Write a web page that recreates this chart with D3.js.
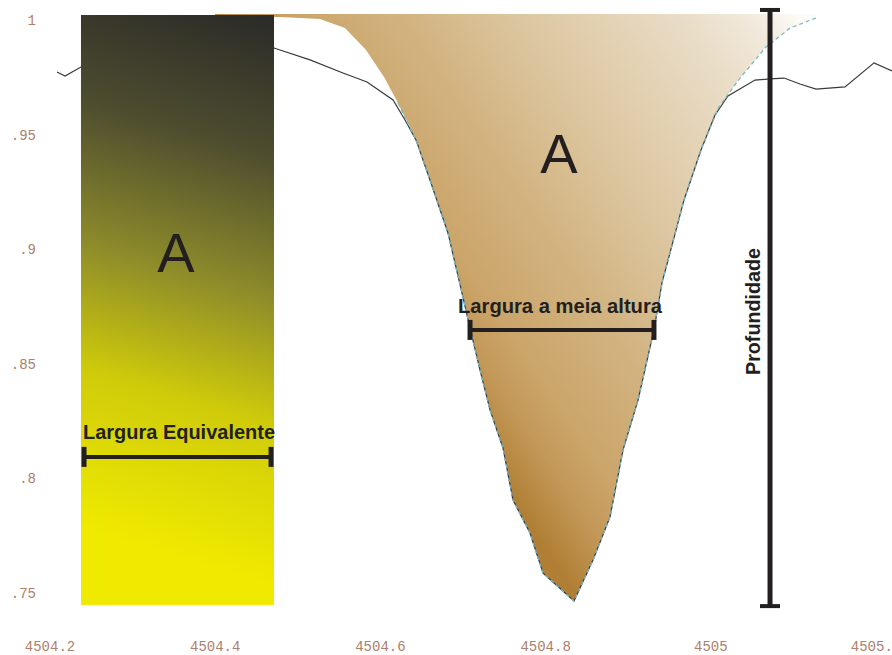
<!DOCTYPE html>
<html>
<head>
<meta charset="utf-8">
<script src="https://cdn.jsdelivr.net/npm/d3@7"></script>
<style>
  html, body { margin: 0; padding: 0; background: #ffffff; }
  svg { display: block; }
</style>
</head>
<body>
<svg id="chart" width="892" height="655"></svg>
<script>
// Axis ticks
const xTicks = [4504.2, 4504.4, 4504.6, 4504.8, 4505.0, 4505.2];
const xTickLabels = ["4504.2", "4504.4", "4504.6", "4504.8", "4505", "4505.2"];
const yTicks = [1.0, 0.95, 0.9, 0.85, 0.8, 0.75];
const yTickLabels = ["1", ".95", ".9", ".85", ".8", ".75"];

// Observed normalized spectrum
const obsWavelength = [4504.2085, 4504.2182, 4504.2375, 4504.4712, 4504.5148, 4504.5547, 4504.5838, 4504.6153,
  4504.6298, 4504.6431, 4504.6600, 4504.6818, 4504.6988, 4504.7085, 4504.7206, 4504.7327, 4504.7484,
  4504.7605, 4504.7811, 4504.7969, 4504.8344, 4504.8574, 4504.8780, 4504.8937, 4504.9119, 4504.9312, 4504.9409,
  4504.9676, 4504.9881, 4505.0051, 4505.0208, 4505.0535, 4505.0717, 4505.0886, 4505.1080, 4505.1274, 4505.1625,
  4505.1976, 4505.2194];
const obsFlux = [0.9751, 0.9734, 0.9773, 0.9856, 0.9804, 0.9747, 0.9708, 0.9629,
  0.9542, 0.9455, 0.9280, 0.9049, 0.8787, 0.8634, 0.8451, 0.8277, 0.8111,
  0.7884, 0.7740, 0.7565, 0.7443, 0.7622, 0.7810, 0.8102, 0.8320, 0.8626, 0.8831,
  0.9193, 0.9411, 0.9564, 0.9647, 0.9716, 0.9721, 0.9725, 0.9699, 0.9677, 0.9686,
  0.9791, 0.9756];

// Absorbed area under the continuum (line profile)
const areaWavelength = [4504.3998, 4504.4785, 4504.5269, 4504.5571, 4504.5826, 4504.6044, 4504.6213,
  4504.6431, 4504.6600, 4504.6818, 4504.6988, 4504.7085, 4504.7206, 4504.7327, 4504.7484,
  4504.7605, 4504.7811, 4504.7969, 4504.8344, 4504.8574, 4504.8780, 4504.8937, 4504.9119, 4504.9312,
  4504.9409, 4504.9676, 4504.9881, 4505.0099, 4505.0354, 4505.0668, 4505.0959, 4505.1274];
const areaFlux = [0.9991, 0.9991, 0.9983, 0.9943, 0.9847, 0.9730, 0.9616,
  0.9455, 0.9280, 0.9049, 0.8787, 0.8634, 0.8451, 0.8277, 0.8111,
  0.7884, 0.7740, 0.7565, 0.7443, 0.7622, 0.7810, 0.8102, 0.8320, 0.8626,
  0.8831, 0.9193, 0.9411, 0.9599, 0.9725, 0.9860, 0.9943, 0.9987];

// Fitted profile (dashed)
const fitWavelength = [4504.6213, 4504.6431, 4504.6600, 4504.6818, 4504.6988, 4504.7085, 4504.7206, 4504.7327,
  4504.7484, 4504.7605, 4504.7811, 4504.7969, 4504.8344, 4504.8574, 4504.8780, 4504.8937, 4504.9119, 4504.9312,
  4504.9409, 4504.9676, 4504.9881, 4505.0099, 4505.0354, 4505.0668, 4505.0959, 4505.1274];
const fitFlux = [0.9616, 0.9455, 0.9280, 0.9049, 0.8787, 0.8634, 0.8451, 0.8277,
  0.8111, 0.7884, 0.7740, 0.7565, 0.7443, 0.7622, 0.7810, 0.8102, 0.8320, 0.8626,
  0.8831, 0.9193, 0.9411, 0.9599, 0.9725, 0.9860, 0.9943, 0.9987];

// Equivalent-width rectangle, half-maximum width and depth
const continuum = 1.0;
const eqWidthRange = [4504.2375, 4504.4712];
const eqWidthFloor = 0.7426;
const eqBarRange = [4504.2412, 4504.4676];
const eqBarLevel = 0.8072;
const fwhmRange = [4504.7085, 4504.9312];
const fwhmLevel = 0.8626;
const depthPosition = 4505.0717;
const depthRange = [1.0022, 0.7421];

const svg = d3.select("#chart");
const x = d3.scaleLinear().domain([4504.2, 4505.2]).range([50, 876]);
const y = d3.scaleLinear().domain([0.75, 1.0]).range([588, 15]);

const defs = svg.append("defs");
const gArea = defs.append("linearGradient").attr("id", "areaGrad")
  .attr("gradientUnits", "userSpaceOnUse")
  .attr("x1", 800).attr("y1", 20).attr("x2", 380).attr("y2", 300);
[[0, "#fdfbf7"], [0.08, "#f1e9db"], [0.2, "#e9dcc5"], [0.46, "#dcc6a0"], [0.65, "#d2b380"],
 [0.82, "#cba56a"], [0.9, "#c39858"], [1, "#b07f35"]]
  .forEach(([o, c]) => gArea.append("stop").attr("offset", o).attr("stop-color", c));

const gRect = defs.append("linearGradient").attr("id", "rectGrad")
  .attr("gradientUnits", "userSpaceOnUse")
  .attr("x1", 275).attr("y1", 15).attr("x2", 120).attr("y2", 540);
[[0, "#2a2a28"], [0.25, "#4e4d2f"], [0.5, "#8e8c2a"], [0.72, "#cfcb0a"], [1, "#f0ea00"]]
  .forEach(([o, c]) => gRect.append("stop").attr("offset", o).attr("stop-color", c));

// Tick labels
const tickFont = "'Liberation Mono', 'DejaVu Sans Mono', monospace";
svg.append("g").selectAll("text").data(xTicks).join("text")
  .attr("x", d => x(d)).attr("y", 651)
  .attr("text-anchor", "middle")
  .attr("font-family", tickFont).attr("font-size", 14).attr("fill", "#ad7f6c")
  .text((d, i) => xTickLabels[i]);
svg.append("g").selectAll("text").data(yTicks).join("text")
  .attr("x", 36).attr("y", d => y(d) + 10)
  .attr("text-anchor", "end")
  .attr("font-family", tickFont).attr("font-size", 14).attr("fill", "#ad7f6c")
  .text((d, i) => yTickLabels[i]);

// Absorbed area
const areaPts = areaWavelength.map((w, i) => [w, areaFlux[i]]);
const areaGen = d3.area().x(d => x(d[0])).y0(y(continuum) - 1).y1(d => y(d[1]));
svg.append("path").datum(areaPts).attr("d", areaGen).attr("fill", "url(#areaGrad)");

// Observed spectrum
const obsPts = obsWavelength.map((w, i) => [w, obsFlux[i]]);
const lineGen = d3.line().x(d => x(d[0])).y(d => y(d[1]));
svg.append("path").datum(obsPts).attr("d", lineGen)
  .attr("fill", "none").attr("stroke", "#3a3a3a").attr("stroke-width", 1.2);

// Fitted profile
const fitPts = fitWavelength.map((w, i) => [w, fitFlux[i]]);
svg.append("path").datum(fitPts).attr("d", lineGen)
  .attr("fill", "none").attr("stroke", "#7cb9c2").attr("stroke-width", 1.3)
  .attr("stroke-dasharray", "4,3");

// Equivalent-width rectangle
svg.append("rect")
  .attr("x", x(eqWidthRange[0])).attr("y", y(continuum))
  .attr("width", x(eqWidthRange[1]) - x(eqWidthRange[0]))
  .attr("height", y(eqWidthFloor) - y(continuum))
  .attr("fill", "url(#rectGrad)");

const ink = "#231f20";
const labelFont = "'Liberation Sans', Arial, sans-serif";

// Horizontal measuring bar with end caps
function hBar(range, level) {
  const g = svg.append("g").attr("stroke", ink);
  const yy = y(level), x0 = x(range[0]), x1 = x(range[1]);
  g.append("line").attr("x1", x0).attr("x2", x1).attr("y1", yy).attr("y2", yy).attr("stroke-width", 4);
  [x0, x1].forEach(xx => g.append("line").attr("x1", xx).attr("x2", xx)
    .attr("y1", yy - 10).attr("y2", yy + 10).attr("stroke-width", 5));
}
hBar(eqBarRange, eqBarLevel);
hBar(fwhmRange, fwhmLevel);

// Vertical depth bar
{
  const g = svg.append("g").attr("stroke", ink);
  const xx = x(depthPosition), y0 = y(depthRange[0]), y1 = y(depthRange[1]);
  g.append("line").attr("x1", xx).attr("x2", xx).attr("y1", y0).attr("y2", y1).attr("stroke-width", 5);
  [y0, y1].forEach(yy => g.append("line").attr("x1", xx - 10).attr("x2", xx + 10)
    .attr("y1", yy).attr("y2", yy).attr("stroke-width", 4));
}

// Labels
svg.append("text").attr("x", 176).attr("y", 272).attr("text-anchor", "middle")
  .attr("font-family", labelFont).attr("font-size", 56).attr("fill", ink).text("A");
svg.append("text").attr("x", 559).attr("y", 173).attr("text-anchor", "middle")
  .attr("font-family", labelFont).attr("font-size", 56).attr("fill", ink).text("A");

svg.append("text").attr("x", 83).attr("y", 439)
  .attr("font-family", labelFont).attr("font-size", 19.5).attr("font-weight", "bold")
  .attr("textLength", 192).attr("lengthAdjust", "spacingAndGlyphs")
  .attr("fill", ink).text("Largura Equivalente");
svg.append("text").attr("x", 458).attr("y", 313)
  .attr("font-family", labelFont).attr("font-size", 20).attr("font-weight", "bold")
  .attr("textLength", 204).attr("lengthAdjust", "spacingAndGlyphs")
  .attr("fill", ink).text("Largura a meia altura");
svg.append("text").attr("transform", "translate(760,375) rotate(-90)")
  .attr("font-family", labelFont).attr("font-size", 19.5).attr("font-weight", "bold")
  .attr("textLength", 127).attr("lengthAdjust", "spacingAndGlyphs")
  .attr("fill", ink).text("Profundidade");
</script>
</body>
</html>
